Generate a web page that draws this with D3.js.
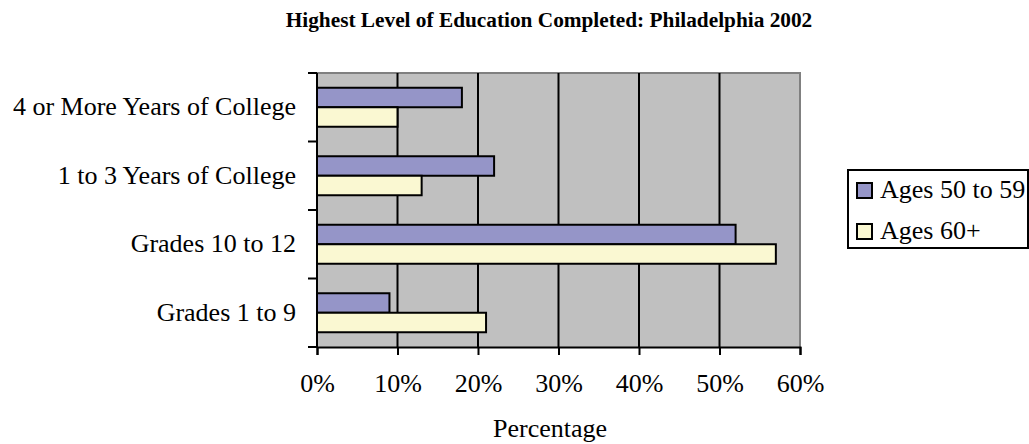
<!DOCTYPE html>
<html>
<head>
<meta charset="utf-8">
<script src="https://cdn.jsdelivr.net/npm/d3@7"></script>
<style>
  body { margin: 0; background: #fff; }
  text { font-family: "Liberation Serif", "Times New Roman", serif; fill: #000; }
</style>
</head>
<body>
<div id="chart"></div>
<script>
// data (percent)
const categories = ["4 or More Years of College", "1 to 3 Years of College", "Grades 10 to 12", "Grades 1 to 9"];
const seriesNames = ["Ages 50 to 59", "Ages 60+"];
const ages50to59 = [18, 22, 52, 9];
const ages60plus = [10, 13, 57, 21];
const xTicks = [0, 10, 20, 30, 40, 50, 60];
const colors = ["#9595C8", "#FAF8D2"];

const width = 1029, height = 444;
const margin = {top: 73, right: 229, bottom: 97, left: 317};
const plotW = width - margin.left - margin.right;
const plotH = height - margin.top - margin.bottom;
const fs = "26px";

const svg = d3.select("#chart")
    .append("svg")
    .attr("width", width)
    .attr("height", height);

svg.append("text")
    .attr("x", 549)
    .attr("y", 27)
    .attr("text-anchor", "middle")
    .style("font-size", "21.3px")
    .style("font-weight", "bold")
    .text("Highest Level of Education Completed: Philadelphia 2002");

const g = svg.append("g")
    .attr("transform", "translate(" + margin.left + "," + margin.top + ")");

const x = d3.scaleLinear().domain([0, 60]).range([0, plotW]);
const y = d3.scaleBand().domain(categories).range([0, plotH]).paddingInner(0).paddingOuter(0);
const inner = d3.scaleBand().domain(seriesNames).range([0, 39]);

// plot background
g.append("rect")
    .attr("width", plotW)
    .attr("height", plotH)
    .attr("fill", "#C0C0C0");

// border top/right in gray
g.append("path")
    .attr("d", "M0,0H" + plotW + "V" + plotH)
    .attr("fill", "none")
    .attr("stroke", "#808080")
    .attr("stroke-width", 2);

// gridlines
g.selectAll(".grid")
    .data(xTicks.slice(1, -1))
    .enter()
    .append("line")
    .attr("class", "grid")
    .attr("x1", (d) => x(d))
    .attr("x2", (d) => x(d))
    .attr("y1", 0)
    .attr("y2", plotH)
    .attr("stroke", "#000")
    .attr("stroke-width", 2);

// bars
const rows = categories.map((c, i) => ({cat: c, vals: [ages50to59[i], ages60plus[i]]}));
const grp = g.selectAll(".cat")
    .data(rows)
    .enter()
    .append("g")
    .attr("transform", (d) => "translate(0," + (y(d.cat) + (y.bandwidth() - 39) / 2) + ")");

grp.selectAll("rect")
    .data((d) => d.vals.map((v, j) => ({v: v, s: seriesNames[j], j: j})))
    .enter()
    .append("rect")
    .attr("x", 0)
    .attr("y", (d) => inner(d.s))
    .attr("width", (d) => x(d.v))
    .attr("height", inner.bandwidth())
    .attr("fill", (d) => colors[d.j])
    .attr("stroke", "#000")
    .attr("stroke-width", 2);

// x axis
const xAxis = g.append("g")
    .attr("transform", "translate(0," + plotH + ")")
    .call(d3.axisBottom(x).tickValues(xTicks).tickFormat((d) => d + "%").tickSize(8).tickPadding(19));
xAxis.select(".domain").attr("stroke-width", 2);
xAxis.selectAll(".tick line").attr("stroke-width", 2);
xAxis.selectAll("text").style("font-size", fs).attr("font-family", null);

// y axis: ticks at band edges
const yAxis = g.append("g");
yAxis.append("line")
    .attr("x1", 0).attr("x2", 0)
    .attr("y1", 0).attr("y2", plotH)
    .attr("stroke", "#000").attr("stroke-width", 2);
const edges = categories.map((c) => y(c)).concat([plotH]);
yAxis.selectAll(".ytick")
    .data(edges)
    .enter()
    .append("line")
    .attr("x1", -9).attr("x2", 0)
    .attr("y1", (d) => d).attr("y2", (d) => d)
    .attr("stroke", "#000").attr("stroke-width", 2);
yAxis.selectAll(".ylab")
    .data(categories)
    .enter()
    .append("text")
    .attr("x", -21)
    .attr("y", (d) => y(d) + y.bandwidth() / 2 + 8)
    .attr("text-anchor", "end")
    .style("font-size", fs)
    .text((d) => d);

// x axis title
svg.append("text")
    .attr("x", 550)
    .attr("y", 437)
    .attr("text-anchor", "middle")
    .style("font-size", fs)
    .text("Percentage");

// legend
const legend = svg.append("g").attr("transform", "translate(848,170)");
legend.append("rect")
    .attr("width", 180)
    .attr("height", 78)
    .attr("fill", "#fff")
    .attr("stroke", "#000")
    .attr("stroke-width", 2);
const li = legend.selectAll(".li")
    .data(seriesNames)
    .enter()
    .append("g")
    .attr("transform", (d, i) => "translate(9," + (13 + i * 41) + ")");
li.append("rect")
    .attr("width", 15)
    .attr("height", 15)
    .attr("fill", (d, i) => colors[i])
    .attr("stroke", "#000")
    .attr("stroke-width", 2);
li.append("text")
    .attr("x", 23)
    .attr("y", 15)
    .style("font-size", fs)
    .text((d) => d);
</script>
</body>
</html>
